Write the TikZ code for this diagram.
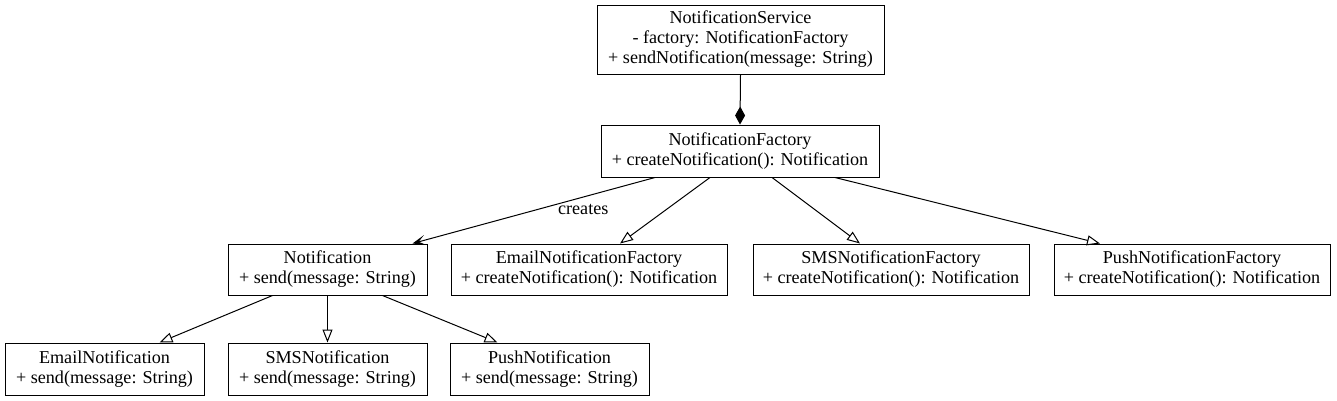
\documentclass[tikz,border=0pt]{standalone}
\usepackage{fontspec}
\setmainfont{Liberation Serif}
\usetikzlibrary{arrows.meta,calc}
\begin{document}
\begin{tikzpicture}[x=0.75pt,y=-0.75pt,
  cls/.style={draw, line width=0.75pt, align=center, inner sep=0pt,
    font=\fontsize{13.6}{15}\selectfont},
  conn/.style={line width=0.75pt},
  inherit/.style={conn, -{Triangle[open, length=9.75pt, width=7.5pt]}},
  creates/.style={conn, -{Stealth[length=9.75pt, width=7.5pt, inset=5pt]}},
  compose/.style={conn, -{Diamond[length=13.5pt, width=7.5pt]}},
  lbl/.style={font=\fontsize{13.6}{15}\selectfont, inner sep=0pt}
]
\useasboundingbox (0,0) rectangle (1337,400);

\node[cls, minimum width=215.25pt, minimum height=51.75pt] (svc) at (740.5,39.5)
  {NotificationService\\- factory: NotificationFactory\\+ sendNotification(message: String)};
\node[cls, minimum width=208.5pt, minimum height=39pt] (fac) at (740,151)
  {NotificationFactory\\+ createNotification(): Notification};
\node[cls, minimum width=149.25pt, minimum height=38.25pt] (notif) at (327.5,269.5)
  {Notification\\+ send(message: String)};
\node[cls, minimum width=207pt, minimum height=38.25pt] (efac) at (589,269.5)
  {EmailNotificationFactory\\+ createNotification(): Notification};
\node[cls, minimum width=207pt, minimum height=38.25pt] (sfac) at (891,269.5)
  {SMSNotificationFactory\\+ createNotification(): Notification};
\node[cls, minimum width=207pt, minimum height=38.25pt] (pfac) at (1192,269.5)
  {PushNotificationFactory\\+ createNotification(): Notification};
\node[cls, minimum width=149.25pt, minimum height=39pt] (en) at (104.5,369)
  {EmailNotification\\+ send(message: String)};
\node[cls, minimum width=149.25pt, minimum height=39pt] (sn) at (327.5,369)
  {SMSNotification\\+ send(message: String)};
\node[cls, minimum width=149.25pt, minimum height=39pt] (pn) at (549.5,369)
  {PushNotification\\+ send(message: String)};

\draw[compose] (svc.south) -- (fac.north);
\draw[creates] ($(fac.south)+(-85,0)$) -- node[lbl, pos=0.296, yshift=-9pt] (crl) {creates} ($(notif.north)+(85,0)$);
\draw[inherit] ($(fac.south)+(-30,0)$) -- ($(efac.north)+(31,0)$);
\draw[inherit] ($(fac.south)+(32,0)$) -- ($(sfac.north)+(-31,0)$);
\draw[inherit] ($(fac.south)+(95,0)$) -- ($(pfac.north)+(-92,0)$);
\draw[inherit] ($(notif.south)+(-55,0)$) -- ($(en.north)+(55,0)$);
\draw[inherit] (notif.south) -- (sn.north);
\draw[inherit] ($(notif.south)+(55,0)$) -- ($(pn.north)+(-52,0)$);
\end{tikzpicture}
\end{document}
